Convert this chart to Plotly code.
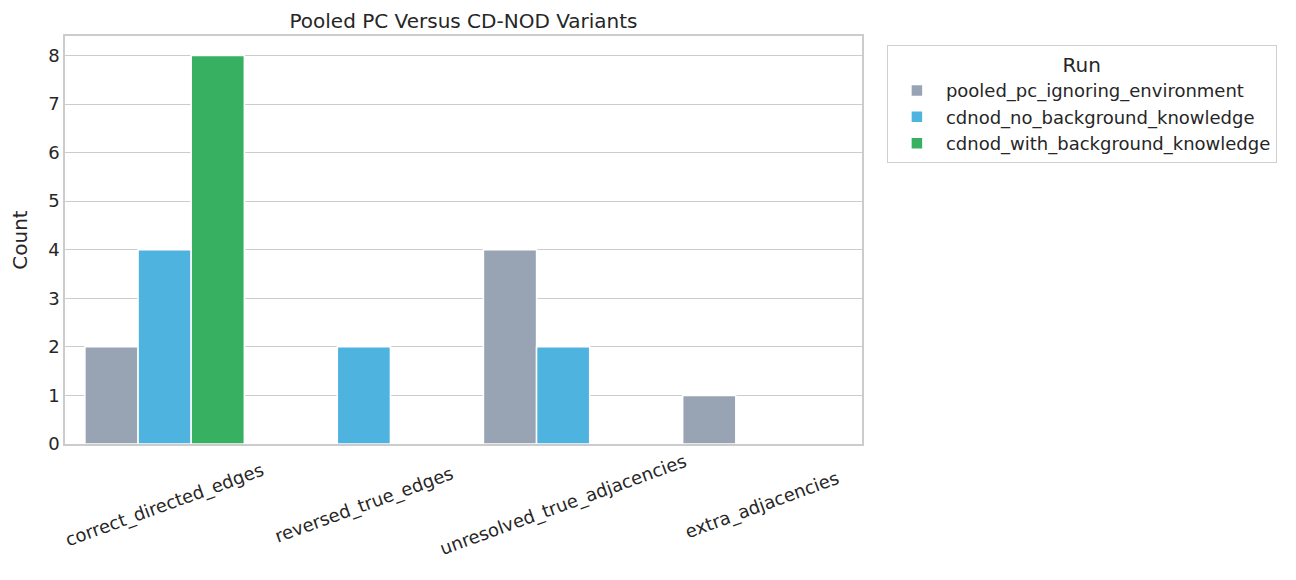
import plotly.graph_objects as go

categories = ["correct_directed_edges", "reversed_true_edges",
              "unresolved_true_adjacencies", "extra_adjacencies"]
runs = ["pooled_pc_ignoring_environment", "cdnod_no_background_knowledge",
        "cdnod_with_background_knowledge"]
pooled_pc = [2, 0, 4, 1]
cdnod_no_bk = [4, 2, 2, 0]
cdnod_with_bk = [8, 0, 0, 0]
values = [pooled_pc, cdnod_no_bk, cdnod_with_bk]
colors = ["#98a4b3", "#4fb3e0", "#37b062"]

FONT = "DejaVu Sans"
W, H = 1280, 564
L, R, T, B = 57, 426, 28, 128

fig = go.Figure()
for name, vals, col in zip(runs, values, colors):
    fig.add_trace(go.Bar(
        x=categories, y=vals, name=name,
        marker=dict(color=col, line=dict(color="white", width=1.5)),
    ))

for c in categories:
    fig.add_annotation(
        x=c, xref="x", y=-0.15, yref="paper", text=c, showarrow=False,
        textangle=-20, font=dict(family=FONT, size=18, color="#262626"),
        xanchor="center", yanchor="middle",
    )

fig.update_layout(
    width=W, height=H,
    paper_bgcolor="white", plot_bgcolor="white",
    margin=dict(l=L, r=R, t=T, b=B, autoexpand=False),
    barmode="group", bargap=0.2, bargroupgap=0,
    font=dict(family=FONT, size=18, color="#262626"),
    title=dict(text="Pooled PC Versus CD-NOD Variants",
               x=(L + (W - R)) / 2 / W, xanchor="center",
               y=1 - 13 / H, yanchor="middle",
               font=dict(family=FONT, size=20, color="#262626")),
    xaxis=dict(showticklabels=False, showgrid=False,
               showline=True, linecolor="#cccccc", linewidth=1.5, mirror=True,
               ticks="", range=[-0.5, 3.5]),
    yaxis=dict(title=dict(text="Count", font=dict(family=FONT, size=20), standoff=15),
               range=[0, 8.4], dtick=1, showgrid=True, gridcolor="#cccccc",
               gridwidth=1.4, showline=True, linecolor="#cccccc", linewidth=1.5,
               mirror=True, ticks="", zeroline=False,
               tickfont=dict(family=FONT, size=18)),
    legend=dict(x=1.031, y=0.978, xanchor="left", yanchor="top",
                bordercolor="#d0d0d0", borderwidth=1.2, bgcolor="white",
                itemwidth=48,
                title=dict(text="Run", side="top center",
                           font=dict(family=FONT, size=20)),
                font=dict(family=FONT, size=18), tracegroupgap=0),
)
fig.write_html("out.html")
